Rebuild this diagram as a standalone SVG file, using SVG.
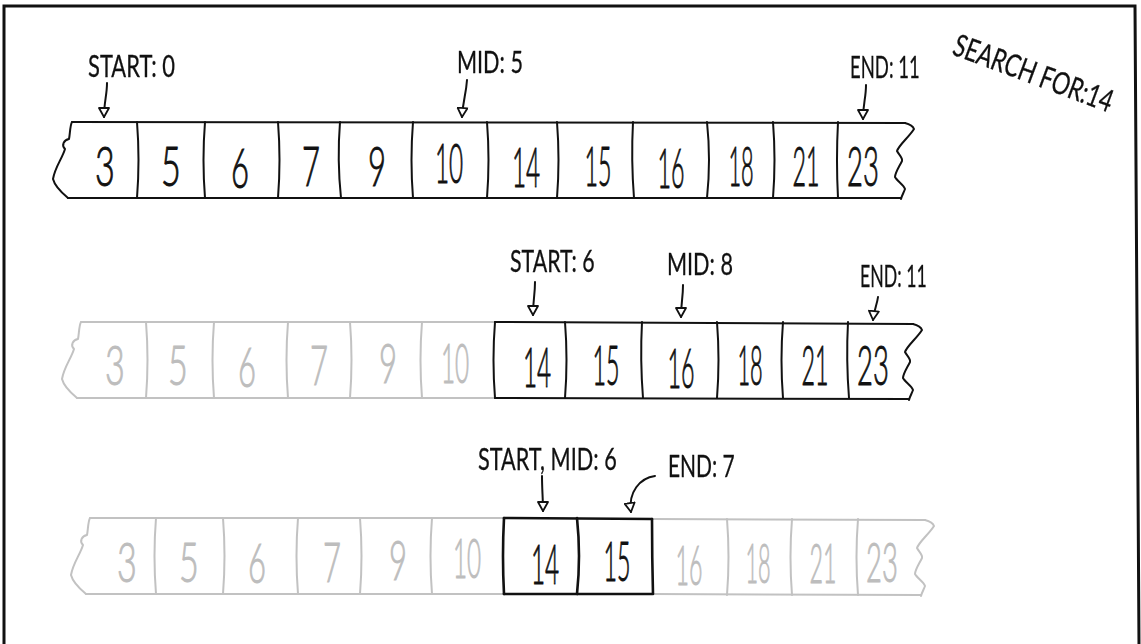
<svg xmlns="http://www.w3.org/2000/svg" width="1141" height="644" viewBox="0 0 1141 644">
<style>
.bg{fill:#fff}
.frame{fill:none;stroke:#111;stroke-width:3}
.ln{fill:none;stroke:#111;stroke-width:2;stroke-linecap:round;stroke-linejoin:round}
.lnb{fill:none;stroke:#111;stroke-width:2.6;stroke-linecap:round;stroke-linejoin:round}
.lg{fill:none;stroke:#c2c2c2;stroke-width:2;stroke-linecap:round;stroke-linejoin:round}
.tx{opacity:.999}
.num{font-family:Lato,"Open Sans","Liberation Sans",sans-serif;font-weight:300;font-size:56px;fill:#111;stroke:#111;stroke-width:1;text-anchor:middle}
.num.g{fill:#bdbdbd;stroke:#bdbdbd}
.lbl{font-family:Lato,"Open Sans","Liberation Sans",sans-serif;font-weight:400;font-size:31px;fill:#111;stroke:#111;stroke-width:.3}
.arr{fill:none;stroke:#111;stroke-width:2;stroke-linecap:round;marker-end:url(#tri)}
</style>
<defs>
<marker id="tri" markerUnits="userSpaceOnUse" viewBox="0 0 11 12" refX="10" refY="6" markerWidth="11" markerHeight="12" orient="auto">
<path d="M1 1 L10 6 L1 11 Z" fill="#fff" stroke="#111" stroke-width="1.8" stroke-linejoin="round"/>
</marker>
<path id="ledge" d="M0 0 C -2 3, -2 13, -3 17 C -8 18, -11 23, -7 27 C -10 37, -17 45, -19 57 C -17 65, -10 71, -4 76"/>
<path id="redge" d="M0 0 C 4 1, 8 3, 9 6 C 4 14, -6 22, -8 28 C -6 32, -2 35, -3 38 C -6 44, -10 50, -10 54 C -8 58, -1 62, 0 66 C -1 69, -3 72, -4 76"/>
</defs>
<rect class="bg" x="0" y="0" width="1141" height="644"/>
<path class="frame" d="M4 644 L4 6 L1135 6 L1139 644"/>

<!-- Row 1 -->
<g id="row1">
<g class="ln">
<path d="M72 122 L905 123"/>
<path d="M68 198 L901 198"/>
<use href="#ledge" transform="translate(72,122)"/>
<use href="#redge" transform="translate(905,123)"/>
<path d="M137 122 q 3 38 0 76"/>
<path d="M205 122 q -3 38 0 76"/>
<path d="M278 122 q 3 38 0 76"/>
<path d="M340 122 q -3 38 1 76"/>
<path d="M413 122 q -3 38 0 76"/>
<path d="M487 122 q 3 38 0 76"/>
<path d="M557 122 q 3 38 0 76"/>
<path d="M633 122 q -2 38 1 76"/>
<path d="M707 122 q 4 38 0 76"/>
<path d="M773 122 q 3 38 0 76"/>
<path d="M838 122 q -2 38 0 76"/>
</g>
<g class="tx">
<text class="num" transform="translate(105 186) scale(.6 1)" textLength="33" lengthAdjust="spacingAndGlyphs">3</text>
<text class="num" transform="translate(171 186) scale(.6 1)" textLength="33" lengthAdjust="spacingAndGlyphs">5</text>
<text class="num" transform="translate(240 188) scale(.6 1)" textLength="30" lengthAdjust="spacingAndGlyphs">6</text>
<text class="num" transform="translate(311 186) scale(.6 1)" textLength="30" lengthAdjust="spacingAndGlyphs">7</text>
<text class="num" transform="translate(377 186) scale(.6 1)" textLength="30" lengthAdjust="spacingAndGlyphs">9</text>
<text class="num" transform="translate(449 183) scale(.6 1)" textLength="47" lengthAdjust="spacingAndGlyphs">10</text>
<text class="num" transform="translate(526 187) scale(.6 1)" textLength="47" lengthAdjust="spacingAndGlyphs">14</text>
<text class="num" transform="translate(598 186) scale(.6 1)" textLength="45" lengthAdjust="spacingAndGlyphs">15</text>
<text class="num" transform="translate(671 188) scale(.6 1)" textLength="45" lengthAdjust="spacingAndGlyphs">16</text>
<text class="num" transform="translate(741 186) scale(.6 1)" textLength="42" lengthAdjust="spacingAndGlyphs">18</text>
<text class="num" transform="translate(806 186) scale(.6 1)" textLength="45" lengthAdjust="spacingAndGlyphs">21</text>
<text class="num" transform="translate(863 186) scale(.6 1)" textLength="53" lengthAdjust="spacingAndGlyphs">23</text>
</g>
</g>

<!-- Row 2 -->
<g id="row2">
<g class="lg">
<path d="M81 322 L495 322"/>
<path d="M77 398 L495 398"/>
<use href="#ledge" transform="translate(81,322)"/>
<path d="M146 322 q 3 38 0 76"/>
<path d="M214 322 q -3 38 0 76"/>
<path d="M288 322 q -3 38 0 76"/>
<path d="M350 322 q 3 38 0 76"/>
<path d="M422 322 q -3 38 0 76"/>
</g>
<g class="ln">
<path d="M495 322 L913 324"/>
<path d="M495 398 L909 399"/>
<use href="#redge" transform="translate(913,324)"/>
<path d="M495 322 q -3 38 0 76"/>
<path d="M565 322 q 3 38 0 76"/>
<path d="M642 322 q -2 38 1 76"/>
<path d="M717 322 q 3 38 0 76"/>
<path d="M783 322 q -3 38 0 76"/>
<path d="M848 322 q -2 38 1 76"/>
</g>
<g class="tx">
<text class="num g" transform="translate(115 385) scale(.6 1)" textLength="33" lengthAdjust="spacingAndGlyphs">3</text>
<text class="num g" transform="translate(178 385) scale(.6 1)" textLength="33" lengthAdjust="spacingAndGlyphs">5</text>
<text class="num g" transform="translate(247 387) scale(.6 1)" textLength="30" lengthAdjust="spacingAndGlyphs">6</text>
<text class="num g" transform="translate(319 385) scale(.6 1)" textLength="30" lengthAdjust="spacingAndGlyphs">7</text>
<text class="num g" transform="translate(388 383) scale(.6 1)" textLength="30" lengthAdjust="spacingAndGlyphs">9</text>
<text class="num g" transform="translate(455 383) scale(.6 1)" textLength="47" lengthAdjust="spacingAndGlyphs">10</text>
<text class="num" transform="translate(537 387) scale(.6 1)" textLength="47" lengthAdjust="spacingAndGlyphs">14</text>
<text class="num" transform="translate(606 385) scale(.6 1)" textLength="45" lengthAdjust="spacingAndGlyphs">15</text>
<text class="num" transform="translate(681 388) scale(.6 1)" textLength="45" lengthAdjust="spacingAndGlyphs">16</text>
<text class="num" transform="translate(750 385) scale(.6 1)" textLength="42" lengthAdjust="spacingAndGlyphs">18</text>
<text class="num" transform="translate(815 385) scale(.6 1)" textLength="45" lengthAdjust="spacingAndGlyphs">21</text>
<text class="num" transform="translate(873 385) scale(.6 1)" textLength="53" lengthAdjust="spacingAndGlyphs">23</text>
</g>
</g>

<!-- Row 3 -->
<g id="row3">
<g class="lg">
<path d="M90 518 L503 518"/>
<path d="M86 594 L503 594"/>
<use href="#ledge" transform="translate(90,518)"/>
<path d="M156 518 q -3 38 0 76"/>
<path d="M223 518 q 3 38 0 76"/>
<path d="M298 518 q -3 38 0 76"/>
<path d="M360 518 q 3 38 0 76"/>
<path d="M432 518 q -3 38 0 76"/>
<path d="M652 519 L925 520"/>
<path d="M652 594 L921 595"/>
<use href="#redge" transform="translate(925,520)"/>
<path d="M727 519 q 3 38 0 76"/>
<path d="M792 519 q -3 38 0 76"/>
<path d="M858 519 q -3 38 0 76"/>
</g>
<g class="lnb">
<path d="M504 518 L652 519"/>
<path d="M504 594 L652 594"/>
<path d="M504 518 q -2 38 0 76"/>
<path d="M577 518 q 4 38 0 76"/>
<path d="M652 519 q 0 38 1 75"/>
</g>
<g class="tx">
<text class="num g" transform="translate(127 582) scale(.6 1)" textLength="33" lengthAdjust="spacingAndGlyphs">3</text>
<text class="num g" transform="translate(189 582) scale(.6 1)" textLength="33" lengthAdjust="spacingAndGlyphs">5</text>
<text class="num g" transform="translate(257 583) scale(.6 1)" textLength="30" lengthAdjust="spacingAndGlyphs">6</text>
<text class="num g" transform="translate(332 582) scale(.6 1)" textLength="30" lengthAdjust="spacingAndGlyphs">7</text>
<text class="num g" transform="translate(398 580) scale(.6 1)" textLength="30" lengthAdjust="spacingAndGlyphs">9</text>
<text class="num g" transform="translate(467 578) scale(.6 1)" textLength="47" lengthAdjust="spacingAndGlyphs">10</text>
<text class="num" transform="translate(545 584) scale(.6 1)" textLength="47" lengthAdjust="spacingAndGlyphs">14</text>
<text class="num" transform="translate(617 581) scale(.6 1)" textLength="45" lengthAdjust="spacingAndGlyphs">15</text>
<text class="num g" transform="translate(689 585) scale(.6 1)" textLength="45" lengthAdjust="spacingAndGlyphs">16</text>
<text class="num g" transform="translate(758 583) scale(.6 1)" textLength="42" lengthAdjust="spacingAndGlyphs">18</text>
<text class="num g" transform="translate(823 583) scale(.6 1)" textLength="45" lengthAdjust="spacingAndGlyphs">21</text>
<text class="num g" transform="translate(882 582) scale(.6 1)" textLength="53" lengthAdjust="spacingAndGlyphs">23</text>
</g>
</g>

<!-- Labels -->
<g id="labels" class="tx">
<text class="lbl" transform="translate(88 77) scale(.75 1)" textLength="116" lengthAdjust="spacingAndGlyphs">START: 0</text>
<text class="lbl" transform="translate(457 73) scale(.75 1)" textLength="88" lengthAdjust="spacingAndGlyphs">MID: 5</text>
<text class="lbl" transform="translate(850 78) scale(.75 1)" textLength="93" lengthAdjust="spacingAndGlyphs">END: 11</text>
<text class="lbl" transform="translate(510 272) scale(.75 1)" textLength="113" lengthAdjust="spacingAndGlyphs">START: 6</text>
<text class="lbl" transform="translate(667 275) scale(.75 1)" textLength="88" lengthAdjust="spacingAndGlyphs">MID: 8</text>
<text class="lbl" transform="translate(860 287) scale(.75 1)" textLength="89" lengthAdjust="spacingAndGlyphs">END: 11</text>
<text class="lbl" transform="translate(478 470) scale(.75 1)" textLength="185" lengthAdjust="spacingAndGlyphs">START, MID: 6</text>
<text class="lbl" transform="translate(668 477) scale(.75 1)" textLength="89" lengthAdjust="spacingAndGlyphs">END: 7</text>
<text class="lbl" font-size="36" transform="translate(951 54) rotate(20.4) scale(.7 1)" textLength="240" lengthAdjust="spacingAndGlyphs">SEARCH FOR:14</text>
</g>

<!-- Connectors -->
<g id="connectors">
<path class="arr" d="M107 83 C 107 95, 104 102, 104 117"/>
<path class="arr" d="M467 80 C 466 95, 463 100, 462 117"/>
<path class="arr" d="M866 85 C 866 98, 863 104, 863 119"/>
<path class="arr" d="M535 282 C 535 295, 533 300, 533 315"/>
<path class="arr" d="M683 285 C 683 298, 681 303, 681 317"/>
<path class="arr" d="M878 297 C 877 305, 874 310, 873 320"/>
<path class="arr" d="M542 476 C 542 490, 543 498, 543 511"/>
<path class="arr" d="M655 476 C 640 478, 628 492, 631 512"/>
</g>
</svg>
